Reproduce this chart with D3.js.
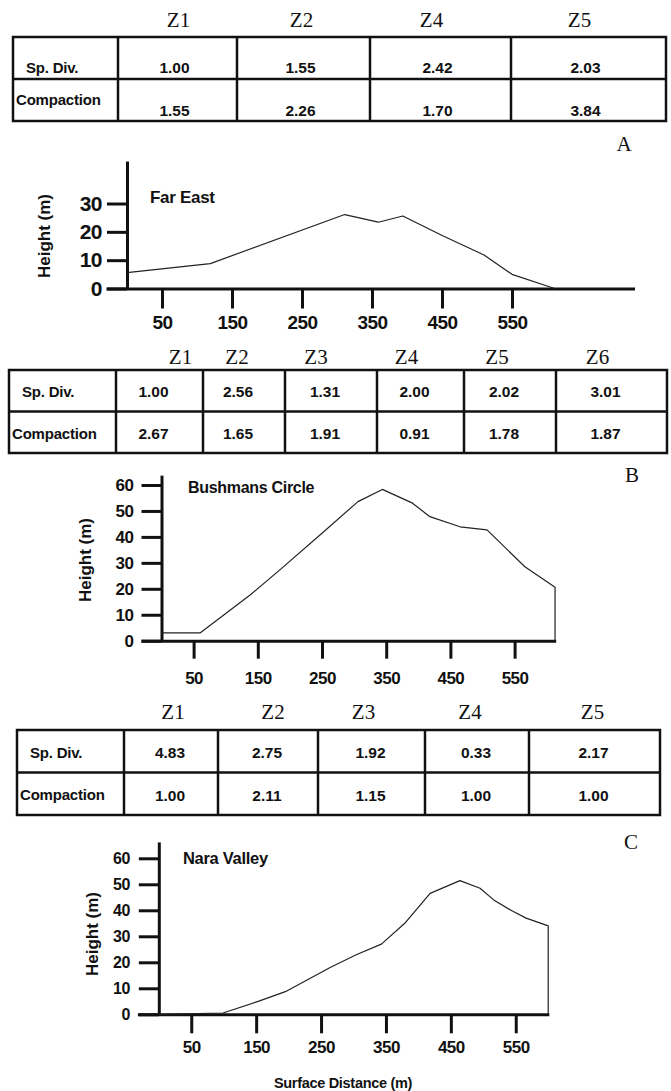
<!DOCTYPE html>
<html lang="en">
<head>
  <meta charset="UTF-8">
  <title>Profiles</title>
  <script src="https://d3js.org/d3.v7.min.js"></script>
  <style>
    body { margin: 0; background: #fff; }
    svg { display: block; }
  </style>
</head>
<body>
<script>
  // ---- data ----
  const zonesA = ["Z1", "Z2", "Z4", "Z5"];
  const spDivA = [1.00, 1.55, 2.42, 2.03];
  const compactionA = [1.55, 2.26, 1.70, 3.84];

  const zonesB = ["Z1", "Z2", "Z3", "Z4", "Z5", "Z6"];
  const spDivB = [1.00, 2.56, 1.31, 2.00, 2.02, 3.01];
  const compactionB = [2.67, 1.65, 1.91, 0.91, 1.78, 1.87];

  const zonesC = ["Z1", "Z2", "Z3", "Z4", "Z5"];
  const spDivC = [4.83, 2.75, 1.92, 0.33, 2.17];
  const compactionC = [1.00, 2.11, 1.15, 1.00, 1.00];

  const rowLabels = ["Sp. Div.", "Compaction"];
  const distTicks = [50, 150, 250, 350, 450, 550];

  const farEastDist = [0, 119, 311, 359, 394, 451, 510, 550, 611];
  const farEastHeight = [5.6, 8.8, 26.1, 23.4, 25.6, 18.6, 11.8, 5, 0];

  const bushmansDist = [0, 60, 138, 183, 250, 306, 344, 391, 418, 465, 507, 566, 613, 613];
  const bushmansHeight = [3, 3, 17.6, 27, 41.4, 53.6, 58.3, 53, 47.8, 43.9, 42.7, 28.5, 20.6, 0];

  const naraDist = [0, 99, 152, 195, 264, 305, 343, 379, 418, 464, 495, 516, 544, 566, 600, 600];
  const naraHeight = [0, 0.5, 4.9, 8.7, 18, 23, 27, 35, 46.5, 51.4, 48.5, 44, 39.8, 37, 34, 0];

  // ---- page ----
  const width = 671, height = 1091;
  const sans = "'Liberation Sans', Arial, Helvetica, sans-serif";
  const serif = "'Liberation Serif', 'Times New Roman', serif";
  const fmt = d3.format(".2f");
  const ink = "#111";

  const svg = d3.select("body").append("svg")
      .attr("width", width)
      .attr("height", height);
  svg.append("rect").attr("width", width).attr("height", height).attr("fill", "#fff");

  function drawTable(t) {
    const g = svg.append("g");
    const e = t.edges;
    const bottom = t.top + 2 * t.rowH;

    g.append("rect")
        .attr("x", e[0]).attr("y", t.top)
        .attr("width", e[e.length - 1] - e[0]).attr("height", 2 * t.rowH)
        .attr("fill", "none").attr("stroke", ink).attr("stroke-width", 2.5);
    g.selectAll("line.v").data(e.slice(1, -1)).join("line")
        .attr("x1", d => d).attr("x2", d => d)
        .attr("y1", t.top).attr("y2", bottom)
        .attr("stroke", ink).attr("stroke-width", 2.5);
    g.append("line")
        .attr("x1", e[0]).attr("x2", e[e.length - 1])
        .attr("y1", t.top + t.rowH).attr("y2", t.top + t.rowH)
        .attr("stroke", ink).attr("stroke-width", 2.5);

    const centers = e.slice(1, -1).map((d, i) => (d + e[i + 2]) / 2);

    // zone headers, serif
    g.selectAll("text.z").data(t.zones).join("text")
        .attr("x", (d, i) => centers[i] + t.headerShift[i])
        .attr("y", t.headerY)
        .attr("text-anchor", "middle")
        .attr("dominant-baseline", "central")
        .attr("font-family", serif).attr("font-size", 21)
        .attr("fill", ink)
        .text(d => d);

    // row labels
    g.selectAll("text.r").data(rowLabels).join("text")
        .attr("x", (d, i) => e[0] + (i === 0 ? 13 : 3))
        .attr("y", (d, i) => t.top + t.rowH * (i + 0.5) + t.labelDy[i])
        .attr("dominant-baseline", "central")
        .attr("font-family", sans).attr("font-weight", "bold").attr("font-size", 15)
        .attr("letter-spacing", -0.2)
        .attr("fill", ink)
        .text(d => d);

    [t.spDiv, t.compaction].forEach((row, r) => {
      g.selectAll("text.v" + r).data(row).join("text")
          .attr("x", (d, i) => centers[i] + t.valueDx)
          .attr("y", t.top + t.rowH * (r + 0.5) + t.valueDy[r])
          .attr("text-anchor", "middle")
          .attr("dominant-baseline", "central")
          .attr("font-family", sans).attr("font-weight", "bold").attr("font-size", 15.5)
          .attr("fill", ink)
          .text(d => fmt(d));
    });

    svg.append("text")
        .attr("x", t.letterX).attr("y", t.letterY)
        .attr("text-anchor", "middle").attr("dominant-baseline", "central")
        .attr("font-family", serif).attr("font-size", 21)
        .attr("fill", ink)
        .text(t.letter);
  }

  function drawProfile(p) {
    const g = svg.append("g");
    const x = d3.scaleLinear()
        .domain(p.xDomain)
        .range(p.xDomain.map(d => p.x0 + d * p.xPerM));
    const y = d3.scaleLinear()
        .domain([0, p.yTop])
        .range([p.yBase, p.yBase - p.yTop * p.yPerM]);

    const xAxis = g.append("g")
        .attr("transform", `translate(0,${p.yBase})`)
        .call(d3.axisBottom(x).tickValues(distTicks).tickFormat(d3.format("d"))
            .tickSize(p.xTickLen).tickSizeOuter(0).tickPadding(p.xPad));
    const yAxis = g.append("g")
        .attr("transform", `translate(${x(0)},0)`)
        .call(d3.axisLeft(y).tickValues(p.yTicks).tickFormat(d3.format("d"))
            .tickSize(20).tickSizeOuter(0).tickPadding(p.yPad));

    [xAxis, yAxis].forEach(a => {
      a.select(".domain").attr("stroke", ink).attr("stroke-width", 3);
      a.selectAll(".tick line").attr("stroke", ink).attr("stroke-width", 3);
      a.selectAll(".tick text")
          .attr("font-family", sans).attr("font-weight", "bold")
          .attr("letter-spacing", -0.5)
          .attr("fill", ink);
    });
    xAxis.selectAll(".tick text").attr("font-size", p.xFont);
    yAxis.selectAll(".tick text").attr("font-size", p.yFont);

    const line = d3.line().x(d => x(d[0])).y(d => y(d[1]));
    g.append("path")
        .datum(d3.zip(p.dist, p.height))
        .attr("d", line)
        .attr("fill", "none")
        .attr("stroke", "#222")
        .attr("stroke-width", 1.2)
        .attr("stroke-linejoin", "round");

    g.append("text")
        .attr("x", p.titleX).attr("y", p.titleY)
        .attr("dominant-baseline", "central")
        .attr("font-family", sans).attr("font-weight", "bold").attr("font-size", p.titleFont)
        .attr("letter-spacing", -0.3)
        .attr("fill", ink)
        .text(p.title);

    g.append("text")
        .attr("transform", `translate(${p.yLabelX},${p.yLabelY}) rotate(-90)`)
        .attr("text-anchor", "middle").attr("dominant-baseline", "central")
        .attr("font-family", sans).attr("font-weight", "bold").attr("font-size", 17)
        .attr("fill", ink)
        .text("Height (m)");
  }

  drawTable({
    zones: zonesA, spDiv: spDivA, compaction: compactionA,
    edges: [13, 118, 237, 370, 511, 666], top: 37, rowH: 42,
    headerY: 20, headerShift: [1, -2, -9, -9],
    labelDy: [9, -1], valueDy: [9, 10], valueDx: -3,
    letter: "A", letterX: 624, letterY: 144
  });

  drawProfile({
    title: "Far East", titleX: 150, titleY: 197, titleFont: 17,
    dist: farEastDist, height: farEastHeight,
    x0: 127, xPerM: 0.70, xDomain: [-30, 725],
    yBase: 288.5, yPerM: 2.833, yTop: 45, yTicks: [0, 10, 20, 30],
    xTickLen: 20, xPad: 7, yPad: 5, xFont: 19, yFont: 21,
    yLabelX: 44, yLabelY: 236
  });

  drawTable({
    zones: zonesB, spDiv: spDivB, compaction: compactionB,
    edges: [9, 116, 203, 285, 377, 464, 556, 667], top: 370, rowH: 41.5,
    headerY: 357, headerShift: [21, -7, -15, -14, -13, -14],
    labelDy: [1, 1], valueDy: [1, 1], valueDx: -6,
    letter: "B", letterX: 632, letterY: 475
  });

  drawProfile({
    title: "Bushmans Circle", titleX: 188, titleY: 487, titleFont: 16,
    dist: bushmansDist, height: bushmansHeight,
    x0: 161.5, xPerM: 0.642, xDomain: [-32, 614],
    yBase: 640.7, yPerM: 2.595, yTop: 63.8, yTicks: [0, 10, 20, 30, 40, 50, 60],
    xTickLen: 18, xPad: 13, yPad: 8, xFont: 17, yFont: 17,
    yLabelX: 85, yLabelY: 560
  });

  drawTable({
    zones: zonesC, spDiv: spDivC, compaction: compactionC,
    edges: [17, 124, 218, 318, 425, 529, 660], top: 730, rowH: 42.5,
    headerY: 712, headerShift: [2, 5, -8, -7, -2],
    labelDy: [1, 1], valueDy: [1, 2], valueDx: -1,
    letter: "C", letterX: 631, letterY: 842
  });

  drawProfile({
    title: "Nara Valley", titleX: 183, titleY: 858, titleFont: 16.5,
    dist: naraDist, height: naraHeight,
    x0: 158.8, xPerM: 0.649, xDomain: [-33, 601],
    yBase: 1014.3, yPerM: 2.6, yTop: 66.3, yTicks: [0, 10, 20, 30, 40, 50, 60],
    xTickLen: 19, xPad: 8, yPad: 9, xFont: 17, yFont: 16,
    yLabelX: 92, yLabelY: 934
  });

  svg.append("text")
      .attr("x", 343).attr("y", 1083)
      .attr("text-anchor", "middle").attr("dominant-baseline", "central")
      .attr("font-family", sans).attr("font-weight", "bold").attr("font-size", 14.5)
      .attr("letter-spacing", -0.3)
      .attr("fill", ink)
      .text("Surface Distance (m)");
</script>
</body>
</html>
